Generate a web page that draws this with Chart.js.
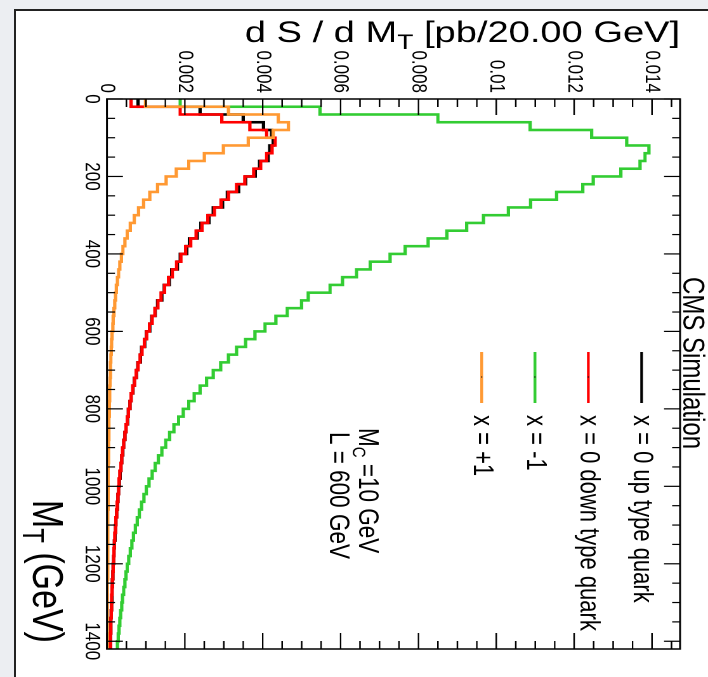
<!DOCTYPE html>
<html>
<head>
<meta charset="utf-8">
<title>dsigma / dMT</title>
<script src="https://cdn.jsdelivr.net/npm/chart.js@4.4.1/dist/chart.umd.min.js"></script>
<style>
  html, body { margin: 0; padding: 0; }
  body { width: 708px; height: 677px; background: #eceef2; position: relative; overflow: hidden; }
  #sheet { position: absolute; left: 14px; top: 9px; right: 0; bottom: 0; background: #fff;
           border-left: 2px solid #222; border-top: 2px solid #222; }
  /* the ROOT canvas is drawn upright, then turned a quarter clockwise */
  #holder { position: absolute; left: 0; top: 0; width: 677px; height: 558px;
            transform-origin: 0 0; transform: translate(708px, 0) rotate(90deg) scale(1, 1.2688); }
</style>
</head>
<body>
<div id="sheet"></div>
<div id="holder"><canvas id="mtChart" width="677" height="558"></canvas></div>
<script>
// bins of 20 GeV from 0 to 1420 GeV
const binWidth = 20;
const mtMax = 1420;
const mtTicks = [0, 200, 400, 600, 800, 1000, 1200, 1400];
const sigmaTicks = [0, 0.002, 0.004, 0.006, 0.008, 0.01, 0.012, 0.014];
const sigmaTickLabels = ["0", "0.002", "0.004", "0.006", "0.008", "0.01", "0.012", "0.014"];
const sigmaMax = 0.01472;

// x = 0 up type quark
const upQuark = [
  0.00080, 0.00239, 0.00350, 0.00402, 0.00423, 0.00427, 0.00418, 0.00414, 0.00392, 0.00381,
  0.00356, 0.00338, 0.00309, 0.00297, 0.00273, 0.00262, 0.00241, 0.00232, 0.00212, 0.00205,
  0.00188, 0.00181, 0.00166, 0.00160, 0.00147, 0.00141, 0.00130, 0.00124, 0.00115, 0.00110,
  0.00101, 0.00097, 0.00089, 0.00086, 0.00079, 0.00076, 0.00070, 0.00067, 0.00062, 0.00059,
  0.00055, 0.00053, 0.00049, 0.00046, 0.00043, 0.00041, 0.00038, 0.00036, 0.00034, 0.00032,
  0.00030, 0.00028, 0.00027, 0.00025, 0.00023, 0.00022, 0.00021, 0.00019, 0.00018, 0.00017,
  0.00016, 0.00015, 0.00014, 0.00013, 0.00013, 0.00012, 0.00011, 0.00010, 0.00010, 0.00009,
  0.00009
];

// x = 0 down type quark
const downQuark = [
  0.00062, 0.00188, 0.00295, 0.00367, 0.00410, 0.00432, 0.00424, 0.00410, 0.00395, 0.00377,
  0.00354, 0.00333, 0.00312, 0.00293, 0.00276, 0.00259, 0.00244, 0.00229, 0.00215, 0.00202,
  0.00190, 0.00179, 0.00168, 0.00158, 0.00148, 0.00139, 0.00131, 0.00123, 0.00116, 0.00109,
  0.00102, 0.00096, 0.00090, 0.00085, 0.00080, 0.00075, 0.00071, 0.00066, 0.00062, 0.00059,
  0.00055, 0.00052, 0.00049, 0.00046, 0.00043, 0.00040, 0.00038, 0.00036, 0.00033, 0.00031,
  0.00030, 0.00028, 0.00026, 0.00025, 0.00023, 0.00022, 0.00020, 0.00019, 0.00018, 0.00017,
  0.00016, 0.00015, 0.00014, 0.00013, 0.00012, 0.00012, 0.00011, 0.00010, 0.00010, 0.00009,
  0.00009
];

// x = -1
const minusOne = [
  0.00188, 0.00547, 0.00850, 0.01087, 0.01245, 0.01335, 0.01392, 0.01382, 0.01369, 0.01320,
  0.01249, 0.01222, 0.01155, 0.01088, 0.01031, 0.00967, 0.00924, 0.00873, 0.00825, 0.00766,
  0.00727, 0.00676, 0.00641, 0.00605, 0.00573, 0.00517, 0.00500, 0.00463, 0.00434, 0.00406,
  0.00380, 0.00356, 0.00333, 0.00312, 0.00292, 0.00273, 0.00256, 0.00239, 0.00224, 0.00210,
  0.00196, 0.00184, 0.00172, 0.00161, 0.00151, 0.00141, 0.00132, 0.00124, 0.00116, 0.00108,
  0.00101, 0.00095, 0.00089, 0.00083, 0.00078, 0.00073, 0.00068, 0.00064, 0.00060, 0.00056,
  0.00052, 0.00049, 0.00046, 0.00043, 0.00040, 0.00038, 0.00035, 0.00033, 0.00031, 0.00029,
  0.00027
];

// x = +1
const plusOne = [
  0.00099, 0.00312, 0.00440, 0.00466, 0.00427, 0.00363, 0.00299, 0.00250, 0.00210, 0.00178,
  0.00152, 0.00130, 0.00110, 0.00094, 0.00081, 0.00070, 0.00060, 0.00052, 0.00046, 0.00041,
  0.00037, 0.00033, 0.00030, 0.00027, 0.00024, 0.00022, 0.00020, 0.00018, 0.00016, 0.00015,
  0.00013, 0.00012, 0.00011, 0.00010, 0.00009, 0.00009, 0.00008, 0.00007, 0.00007, 0.00006,
  0.00006, 0.00005, 0.00005, 0.00005, 0.00004, 0.00004, 0.00004, 0.00003, 0.00003, 0.00003,
  0.00003, 0.00003, 0.00003, 0.00002, 0.00002, 0.00002, 0.00002, 0.00002, 0.00002, 0.00002,
  0.00002, 0.00002, 0.00001, 0.00001, 0.00001, 0.00001, 0.00001, 0.00001, 0.00001, 0.00001,
  0.00001
];

const legendLabels = ["x = 0 up type quark", "x = 0 down type quark", "x = -1", "x = +1"];
const lineColors = ["#000000", "#ff0000", "#33cc33", "#ff9933"];

const FONT = "'Liberation Sans', Arial, Helvetica, sans-serif";

// histogram -> step points at the low bin edges, plus the last upper edge
function toSteps(values) {
  const pts = values.map((v, i) => ({ x: i * binWidth, y: v }));
  pts.push({ x: values.length * binWidth, y: values[values.length - 1] });
  return pts;
}

function histSet(values, idx, order) {
  return {
    label: legendLabels[idx],
    data: toSteps(values),
    borderColor: lineColors[idx],
    borderWidth: 2.6,
    stepped: true,
    pointRadius: 0,
    fill: false,
    order: order
  };
}

// draws text made of pieces (for subscripts), left edge at x
function drawPieces(ctx, pieces, x, y, align) {
  let total = 0;
  pieces.forEach(p => {
    ctx.font = p.size + "px " + FONT;
    p.w = ctx.measureText(p.t).width;
    total += p.w;
  });
  let cx = align === "right" ? x - total : x;
  ctx.textAlign = "left";
  pieces.forEach(p => {
    ctx.font = p.size + "px " + FONT;
    ctx.fillText(p.t, cx, y + (p.dy || 0));
    cx += p.w;
  });
}

// frame, ticks on all four sides, legend and labels in ROOT style
const rootStyle = {
  id: "rootStyle",
  afterDatasetsDraw(chart) {
    const { ctx, chartArea: a, scales: { x, y } } = chart;
    ctx.save();
    ctx.strokeStyle = "#000";
    ctx.lineWidth = 1.5;
    ctx.strokeRect(a.left, a.top, a.right - a.left, a.bottom - a.top);

    ctx.lineWidth = 1.2;
    ctx.beginPath();
    for (let m = 0; m <= mtMax; m += 50) {
      const px = x.getPixelForValue(m);
      const len = m % 200 === 0 ? 12.6 : 6.3;
      ctx.moveTo(px, a.bottom); ctx.lineTo(px, a.bottom - len);
      ctx.moveTo(px, a.top); ctx.lineTo(px, a.top + len);
    }
    for (let k = 0; k * 0.0005 <= sigmaMax; k++) {
      const py = y.getPixelForValue(k * 0.0005);
      const len = k % 4 === 0 ? 16 : 8;
      ctx.moveTo(a.left, py); ctx.lineTo(a.left + len, py);
      ctx.moveTo(a.right, py); ctx.lineTo(a.right - len, py);
    }
    ctx.stroke();
    ctx.restore();
  },
  afterDraw(chart) {
    const { ctx, chartArea: a } = chart;
    ctx.save();
    ctx.fillStyle = "#000";
    ctx.textBaseline = "alphabetic";

    // CMS Simulation
    ctx.font = "24px " + FONT;
    ctx.textAlign = "left";
    ctx.fillText("CMS Simulation", 277, 19.7);

    // legend
    const legendV = [52.3, 94.3, 136.4, 178.4];
    legendLabels.forEach((lab, i) => {
      const v = legendV[i];
      ctx.strokeStyle = lineColors[i];
      ctx.lineWidth = 2.2;
      ctx.beginPath();
      ctx.moveTo(352, v); ctx.lineTo(403, v);
      ctx.stroke();
      ctx.fillStyle = "#000";
      ctx.fillRect(376.5, v - 0.5, 1, 1);
      ctx.font = "22px " + FONT;
      ctx.textAlign = "left";
      ctx.textBaseline = "middle";
      ctx.fillText(lab, 415, v);
    });

    ctx.textBaseline = "alphabetic";
    drawPieces(ctx, [{ t: "M", size: 22.5 }, { t: "C", size: 15, dy: 5 }, { t: " =10 GeV", size: 22.5 }], 428, 275);
    drawPieces(ctx, [{ t: "L = 600 GeV", size: 22.5 }], 432, 298);

    // axis titles
    drawPieces(ctx, [{ t: "M", size: 34 }, { t: "T", size: 24, dy: 8 }, { t: " (GeV)", size: 34 }], a.right - 6, 532, "right");

    ctx.save();
    ctx.translate(42, a.top);
    ctx.rotate(-Math.PI / 2);
    drawPieces(ctx, [{ t: "d S / d M", size: 30 }, { t: "T", size: 21, dy: 7 }, { t: " [pb/20.00 GeV]", size: 30 }], 0, 0, "right");
    ctx.restore();

    ctx.restore();
  }
};

const tickFont = { family: FONT, size: 17 };

new Chart(document.getElementById("mtChart"), {
  type: "line",
  data: {
    datasets: [
      histSet(upQuark, 0, 3),
      histSet(downQuark, 1, 2),
      histSet(minusOne, 2, 1),
      histSet(plusOne, 3, 0)
    ]
  },
  options: {
    responsive: false,
    animation: false,
    devicePixelRatio: 2,
    layout: { padding: { top: 22, right: 28, left: 0, bottom: 0 } },
    plugins: { legend: { display: false }, tooltip: { enabled: false } },
    scales: {
      x: {
        type: "linear",
        min: 0,
        max: mtMax,
        afterBuildTicks: s => { s.ticks = mtTicks.map(v => ({ value: v })); },
        afterFit: s => { s.height = 84.3; },
        grid: { display: false, drawTicks: false },
        border: { display: false },
        ticks: { font: tickFont, color: "#000", padding: 2, maxRotation: 0, autoSkip: false,
                 callback: v => String(v) }
      },
      y: {
        type: "linear",
        min: 0,
        max: sigmaMax,
        afterBuildTicks: s => { s.ticks = sigmaTicks.map(v => ({ value: v })); },
        afterFit: s => { s.width = 99; },
        grid: { display: false, drawTicks: false },
        border: { display: false },
        ticks: { font: tickFont, color: "#000", padding: 6, autoSkip: false,
                 callback: (v, i) => sigmaTickLabels[i] }
      }
    }
  },
  plugins: [rootStyle]
});
</script>
</body>
</html>
